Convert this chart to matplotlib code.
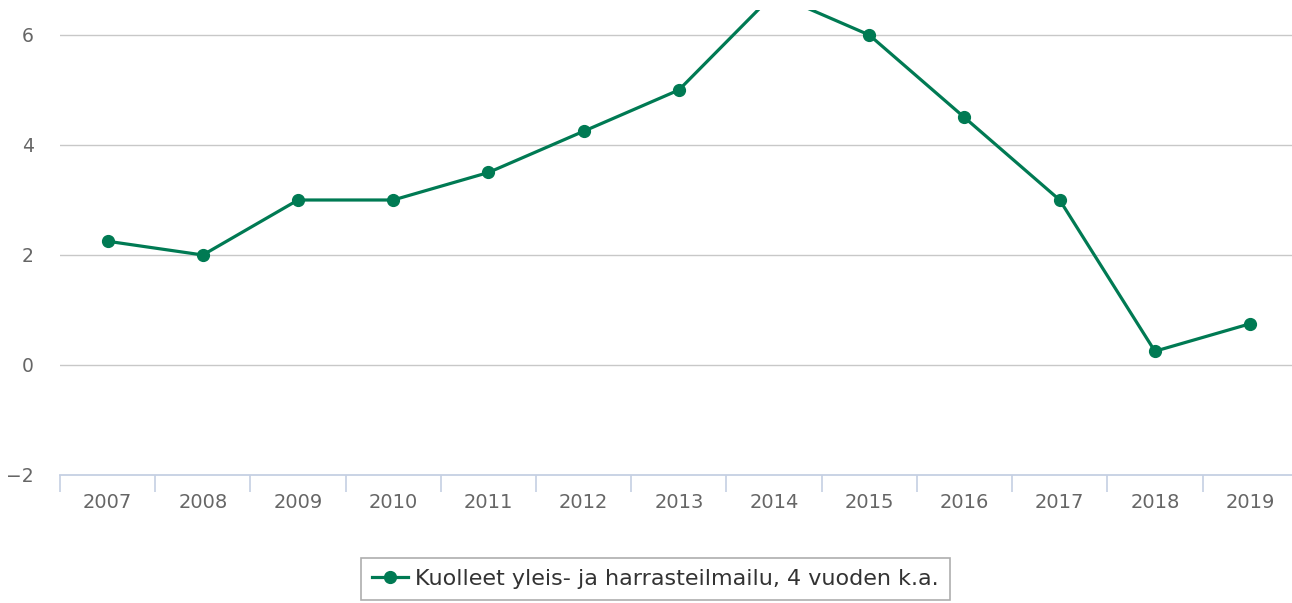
import matplotlib
import matplotlib.pyplot as plt
import numpy as np

matplotlib.use('Agg')

# Data
years = ['2007', '2008', '2009', '2010', '2011', '2012', '2013',
         '2014', '2015', '2016', '2017', '2018', '2019']
values = [2.25, 2.0, 3.0, 3.0, 3.5, 4.25, 5.0, 6.75, 6.0, 4.5, 3.0, 0.25, 0.75]
series_name = 'Kuolleet yleis- ja harrasteilmailu, 4 vuoden k.a.'
y_ticks = [-2, 0, 2, 4, 6]

line_color = '#007a53'
W, H = 1292, 603

fig = plt.figure(figsize=(W / 100, H / 100), dpi=100)
ax = fig.add_axes([60 / W, (H - 475) / H, (W - 60) / W, 465 / H])

x = np.arange(len(years))
ax.plot(x, values, color=line_color, linewidth=2.3, marker='o',
        markersize=8.5, label=series_name, zorder=3)

ax.set_ylim(-2, 6.4545)
ax.set_xlim(-0.5, 12.44)

# grid lines
for v in y_ticks[1:]:
    ax.axhline(v, color='#c8c8c8', linewidth=1.0, zorder=1)

ax.set_yticks(y_ticks)
ax.set_yticklabels(['\u22122' if v < 0 else str(v) for v in y_ticks])
ax.tick_params(axis='y', length=0, pad=19, labelsize=13.5, labelcolor='#666666')

# category ticks between labels
ax.set_xticks(x)
ax.set_xticklabels(years)
ax.set_xticks(np.arange(-0.5, 12.5, 1.0), minor=True)
ax.tick_params(axis='x', which='major', length=0, pad=13, labelsize=14,
               labelcolor='#666666')
ax.tick_params(axis='x', which='minor', length=12, width=1.2, color='#c5d0e3')

for s in ['top', 'right', 'left']:
    ax.spines[s].set_visible(False)
ax.spines['bottom'].set_color('#c5d0e3')
ax.spines['bottom'].set_linewidth(1.3)

leg = fig.legend(loc='upper left', bbox_to_anchor=(361 / W, 1 - 558 / H),
                 frameon=True, fancybox=False, fontsize=16,
                 handlelength=1.6, handletextpad=0.35, borderpad=0.5,
                 borderaxespad=0)
leg.get_frame().set_edgecolor('#999999')
leg.get_frame().set_linewidth(1.2)
for t in leg.get_texts():
    t.set_color('#333333')

fig.savefig('out.png', dpi=100)
